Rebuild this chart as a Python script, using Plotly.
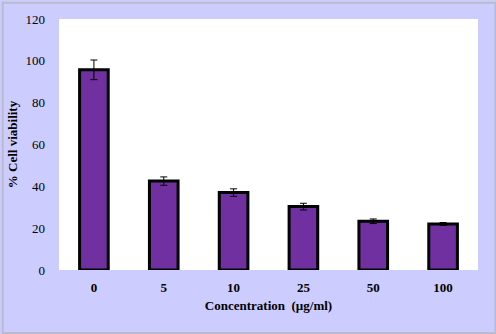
import plotly.graph_objects as go

categories = ["0", "5", "10", "25", "50", "100"]
viability = [95.7, 42.5, 37.0, 30.3, 23.3, 22.0]
errors = [4.7, 2.0, 1.8, 1.6, 1.1, 0.7]
y_ticks = [0, 20, 40, 60, 80, 100, 120]

font = dict(family="Liberation Serif, Times New Roman, serif", size=13, color="black")

fig = go.Figure(go.Bar(
    x=categories, y=viability,
    marker=dict(color="#7030A0", line=dict(color="black", width=3)),
    error_y=dict(type="data", array=errors, visible=True, color="black", thickness=1, width=3.5),
    width=0.41,
))

W, H = 496, 334
ml, mr, mt, mb = 57, 18, 17, 64
pw, ph = W - ml - mr, H - mt - mb

fig.update_layout(
    width=W, height=H,
    margin=dict(l=ml, r=mr, t=mt, b=mb),
    paper_bgcolor="#CCCCFF", plot_bgcolor="white",
    font=font, showlegend=False,
    xaxis=dict(type="category", showgrid=False, showline=False, ticks="",
               tickfont=dict(size=13), ticklabelstandoff=8,
               title=dict(text="<b>Concentration  (µg/ml)</b>", font=dict(size=13), standoff=6)),
    yaxis=dict(range=[0, 120], tickvals=y_ticks, showgrid=False, showline=False, ticks="",
               zeroline=False, tickfont=dict(size=13), ticklabelstandoff=13,
               title=dict(text="<b>% Cell viability</b>", font=dict(size=13), standoff=4)),
    shapes=[dict(type="rect", xref="paper", yref="paper",
                 x0=-ml / pw + 0.001, x1=1 + mr / pw - 0.001,
                 y0=-mb / ph + 0.002, y1=1 + mt / ph - 0.002,
                 line=dict(color="#BBBBCC", width=2), layer="below")],
)
fig.update_xaxes(tickprefix="<b>", ticksuffix="</b>")
fig.update_yaxes(tickprefix="<b>", ticksuffix="</b>")

fig.write_html("out.html")
